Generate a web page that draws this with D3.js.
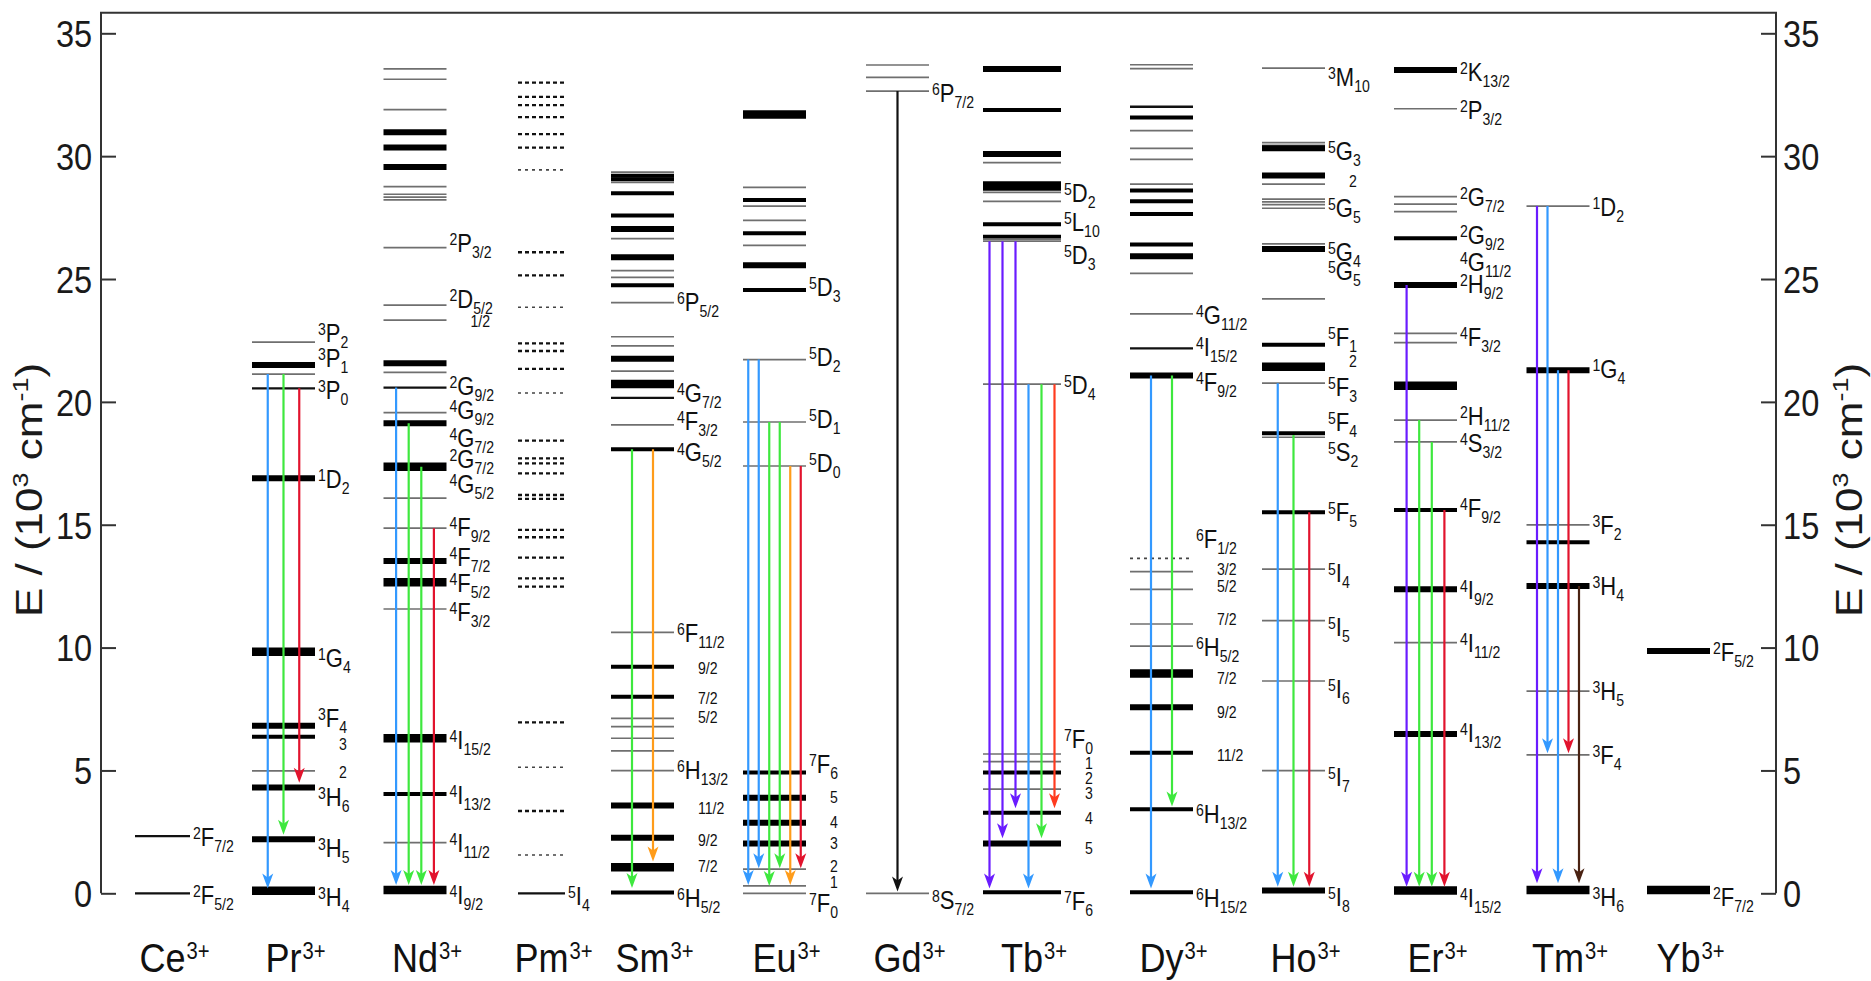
<!DOCTYPE html>
<html><head><meta charset="utf-8">
<script src="https://cdn.jsdelivr.net/npm/d3@7"></script>
<style>
html,body{margin:0;padding:0;background:#fff;}
svg{display:block;font-family:"Liberation Sans",Arial,sans-serif;}
</style></head><body>
<svg id="chart" width="1871" height="981"></svg>
<script>
// ---------------- DATA (energies in 10^3 cm^-1) ----------------
const ions = ["Ce","Pr","Nd","Pm","Sm","Eu","Gd","Tb","Dy","Ho","Er","Tm","Yb"];
const yTicks = [0,5,10,15,20,25,30,35];
const yTitle = ["E / (10","3"," cm","-1",")"];

// levels: [energy, weight class]  (1 thin grey ... 5 very thick, d/e dotted)
const levelsCe = [[2.33,2],[0,2]];
const levelsPr = [[22.43,1],[21.5,4],[21.13,1],[20.55,2],[16.89,4],[9.83,5],[6.82,4],[6.37,3],[4.98,1],[4.31,4],[2.2,4],[0.1,5]];
const levelsNd = [[33.55,1],[33.13,1],[31.89,1],[30.97,4],[30.35,4],[29.56,4],[28.76,1],[28.45,1],[28.33,1],[28.22,1],[26.28,1],[23.94,1],[23.33,1],[21.57,4],[21.2,1],[20.58,2],[19.56,1],[19.13,4],[17.36,5],[16.08,1],[14.86,1],[13.52,4],[12.66,5],[11.57,1],[6.31,5],[4.04,3],[2.06,1],[0.13,5]];
const levelsPm = [[32.99,"d"],[32.41,"d"],[32.08,"d"],[31.59,"d"],[30.9,"d"],[30.35,"d"],[29.44,"e"],[26.09,"d"],[25.15,"d"],[23.85,"e"],[22.38,"d"],[22.07,"d"],[21.34,"d"],[20.36,"e"],[18.42,"d"],[17.7,"d"],[17.5,"d"],[17.09,"d"],[16.21,"d"],[16.05,"d"],[14.79,"d"],[14.49,"d"],[13.66,"d"],[12.82,"d"],[12.48,"d"],[6.96,"d"],[5.13,"e"],[3.35,"d"],[1.56,"e"],[0,2]];
const levelsSm = [[29.35,1],[29.2,3],[29.06,3],[28.93,1],[28.49,3],[27.58,3],[27.04,4],[26.64,1],[25.89,4],[25.34,1],[25.07,1],[24.75,3],[24.04,1],[22.65,1],[22.28,1],[21.76,4],[21.25,1],[20.73,5],[20.16,2],[19.06,1],[18.07,3],[10.62,1],[9.22,3],[8.0,3],[7.12,1],[6.78,1],[6.31,1],[5.8,1],[4.99,1],[3.57,4],[2.26,4],[1.06,5],[0.03,3]];
const levelsEu = [[31.7,5],[28.73,1],[28.22,3],[27.97,1],[27.39,1],[26.86,3],[26.37,1],[25.56,4],[24.55,3],[21.72,1],[19.18,1],[17.39,1],[4.92,3],[3.89,4],[2.87,4],[2.03,4],[0.98,1],[0.3,1],[0,1]];
const levelsGd = [[33.71,1],[33.21,1],[32.65,1],[0,1]];
const levelsTb = [[33.55,4],[31.88,3],[30.09,4],[29.74,1],[28.86,4],[28.67,3],[28.53,1],[28.16,1],[27.23,3],[26.72,3],[26.62,1],[26.54,1],[20.72,1],[5.67,1],[5.36,1],[4.92,3],[4.24,1],[3.28,3],[2.03,4],[0.04,3]];
const levelsDy = [[33.72,1],[33.56,1],[32.01,2],[31.57,3],[31.04,1],[30.32,1],[29.87,1],[28.86,1],[28.6,3],[28.16,3],[27.65,3],[26.4,3],[25.93,4],[25.23,1],[23.58,1],[22.18,2],[21.07,4],[13.63,"e"],[13.09,1],[12.37,1],[10.96,1],[10.06,1],[8.95,5],[7.57,4],[5.72,3],[3.42,3],[0.04,3]];
const levelsHo = [[33.58,1],[30.55,1],[30.44,1],[30.32,4],[29.21,4],[28.86,1],[28.25,1],[28.14,1],[28.03,1],[27.88,1],[26.43,1],[26.22,4],[24.19,1],[22.32,3],[21.43,5],[20.76,1],[18.72,3],[18.56,1],[15.51,3],[13.19,1],[11.1,1],[8.64,1],[4.99,1],[0.11,4]];
const levelsEr = [[33.51,4],[31.93,1],[28.35,1],[28.05,1],[27.74,1],[26.66,3],[24.76,4],[22.79,1],[22.41,1],[20.66,5],[19.26,1],[18.37,1],[15.6,3],[12.37,4],[10.2,1],[6.48,4],[0.11,5]];
const levelsTm = [[27.97,1],[21.29,4],[14.99,1],[14.29,3],[12.51,4],[8.23,1],[5.63,1],[0.13,5]];
const levelsYb = [[9.86,4],[0.13,5]];

// labels: [multiplicity, letter, J, energy at which the label is centred]
const labelsCe = [["2","F","7/2",2.3],["2","F","5/2",-0.07]];
const labelsPr = [["3","P","2",22.8],["3","P","1",21.8],["3","P","0",20.5],["1","D","2",16.85],["1","G","4",9.57],["3","F","4",7.14],["","","3",6.05],["","","2",4.9],["3","H","6",3.92],["3","H","5",1.84],["3","H","4",-0.15]];
const labelsNd = [["2","P","3/2",26.45],["2","D","5/2",24.19],["","","1/2",23.27],["2","G","9/2",20.65],["4","G","9/2",19.67],["4","G","7/2",18.55],["2","G","7/2",17.68],["4","G","5/2",16.66],["4","F","9/2",14.89],["4","F","7/2",13.7],["4","F","5/2",12.63],["4","F","3/2",11.46],["4","I","15/2",6.24],["4","I","13/2",4.01],["4","I","11/2",2.06],["4","I","9/2",-0.06]];
const labelsPm = [["5","I","4",-0.1]];
const labelsSm = [["6","P","5/2",24.05],["4","G","7/2",20.38],["4","F","3/2",19.23],["4","G","5/2",17.94],["6","F","11/2",10.61],["","","9/2",9.16],["","","7/2",7.94],["","","5/2",7.16],["6","H","13/2",5.02],["","","11/2",3.46],["","","9/2",2.14],["","","7/2",1.08],["6","H","5/2",-0.2]];
const labelsEu = [["5","D","3",24.66],["5","D","2",21.84],["5","D","1",19.3],["5","D","0",17.5],["7","F","6",5.25],["","","5",3.89],["","","4",2.87],["","","3",2.03],["","","2",1.08],["","","1",0.42],["7","F","0",-0.4]];
const labelsGd = [["6","P","7/2",32.56],["8","S","7/2",-0.27]];
const labelsTb = [["5","D","2",28.52],["5","L","10",27.33],["5","D","3",25.98],["5","D","4",20.69],["7","F","0",6.28],["","","1",5.29],["","","2",4.68],["","","3",4.07],["","","4",3.05],["","","5",1.83],["7","F","6",-0.3]];
const labelsDy = [["4","G","11/2",23.54],["4","I","15/2",22.25],["4","F","9/2",20.82],["6","F","1/2",14.42],["","","3/2",13.19],["","","5/2",12.48],["","","7/2",11.15],["6","H","5/2",10.04],["","","7/2",8.75],["","","9/2",7.35],["","","11/2",5.59],["6","H","13/2",3.23],["6","H","15/2",-0.2]];
const labelsHo = [["3","M","10",33.24],["5","G","3",30.22],["","","2",28.96],["5","G","5",27.91],["5","G","4",26.11],["5","G","5",25.34],["5","F","1",22.65],["","","2",21.64],["5","F","3",20.62],["5","F","4",19.19],["5","S","2",17.97],["5","F","5",15.5],["5","I","4",13.02],["5","I","5",10.82],["5","I","6",8.31],["5","I","7",4.75],["5","I","8",-0.17]];
const labelsEr = [["2","K","13/2",33.44],["2","P","3/2",31.88],["2","G","7/2",28.35],["2","G","9/2",26.79],["4","G","11/2",25.71],["2","H","9/2",24.8],["4","F","3/2",22.65],["2","H","11/2",19.43],["4","S","3/2",18.31],["4","F","9/2",15.7],["4","I","9/2",12.34],["4","I","11/2",10.17],["4","I","13/2",6.51],["4","I","15/2",-0.2]];
const labelsTm = [["1","D","2",27.95],["1","G","4",21.34],["3","F","2",14.99],["3","H","4",12.51],["3","H","5",8.23],["3","F","4",5.63],["3","H","6",-0.14]];
const labelsYb = [["2","F","5/2",9.82],["2","F","7/2",-0.14]];

// transitions: [from energy, to energy, emission colour]
const arrowsCe = [];
const arrowsPr = [[21.13,0.2,"blue"],[21.13,2.38,"green"],[20.55,4.5,"red"]];
const arrowsNd = [[20.58,0.34,"blue"],[19.13,0.34,"green"],[17.36,0.34,"green"],[14.86,0.34,"red"]];
const arrowsPm = [];
const arrowsSm = [[18.07,0.22,"green"],[18.07,1.29,"orange"]];
const arrowsEu = [[21.72,0.34,"blue"],[21.72,1.02,"blue"],[19.18,0.3,"green"],[19.18,1.02,"green"],[17.39,0.34,"orange"],[17.39,1.02,"red"]];
const arrowsGd = [[32.65,0.07,"black"]];
const arrowsTb = [[26.54,0.2,"violet"],[26.54,2.24,"violet"],[26.54,3.46,"violet"],[20.72,0.2,"blue"],[20.72,2.24,"green"],[20.72,3.46,"orangered"]];
const arrowsDy = [[21.07,0.2,"blue"],[21.07,3.53,"green"]];
const arrowsHo = [[20.76,0.27,"blue"],[18.65,0.27,"green"],[15.51,0.27,"red"]];
const arrowsEr = [[24.76,0.27,"violet"],[19.26,0.27,"green"],[18.37,0.27,"green"],[15.6,0.27,"red"]];
const arrowsTm = [[27.97,0.41,"violet"],[27.97,5.7,"blue"],[21.29,0.41,"blue"],[21.29,5.7,"red"],[12.51,0.41,"brown"]];
const arrowsYb = [];

// ---------------- LAYOUT / STYLE ----------------
const levels = {Ce:levelsCe,Pr:levelsPr,Nd:levelsNd,Pm:levelsPm,Sm:levelsSm,Eu:levelsEu,Gd:levelsGd,Tb:levelsTb,Dy:levelsDy,Ho:levelsHo,Er:levelsEr,Tm:levelsTm,Yb:levelsYb};
const labels = {Ce:labelsCe,Pr:labelsPr,Nd:labelsNd,Pm:labelsPm,Sm:labelsSm,Eu:labelsEu,Gd:labelsGd,Tb:labelsTb,Dy:labelsDy,Ho:labelsHo,Er:labelsEr,Tm:labelsTm,Yb:labelsYb};
const arrows = {Ce:arrowsCe,Pr:arrowsPr,Nd:arrowsNd,Pm:arrowsPm,Sm:arrowsSm,Eu:arrowsEu,Gd:arrowsGd,Tb:arrowsTb,Dy:arrowsDy,Ho:arrowsHo,Er:arrowsEr,Tm:arrowsTm,Yb:arrowsYb};

const SX = 0.88;               // horizontal squeeze of the original lettering
const axL = 101, axR = 1776;
const svg = d3.select("#chart");
const y = d3.scaleLinear().domain([0,35]).range([893.3,33.3]);
const x = d3.scaleOrdinal().domain(ions)
  .range([162.5,283.5,415,541.5,642.5,774.5,897.5,1022,1161.5,1293.5,1425.5,1558,1678.5]);
const lineWidth = ion => ({Ce:55, Pm:47, Tb:78}[ion] || 63);
const levelStyle = {
  1:{w:1.7,c:"#6f6f6f"}, 2:{w:2.3,c:"#111"}, 3:{w:4,c:"#000"}, 4:{w:6,c:"#000"}, 5:{w:8.5,c:"#000"},
  d:{w:2.3,c:"#111",dash:"4 3"}, e:{w:1.6,c:"#444",dash:"3 4"}
};
const arrowColor = {blue:"#3399ff",green:"#3ee83e",red:"#e2132d",orange:"#ff9c1a",violet:"#6a1cff",
  orangered:"#ff3b1f",brown:"#4a2212",black:"#111"};

// frame
svg.append("path")
  .attr("d",`M${axL},${y(0)}V${y(35.84)}H${axR}V${y(0)}`)
  .attr("fill","none").attr("stroke","#333").attr("stroke-width",2);

// axes
const leftAxis = svg.append("g").attr("transform",`translate(${axL},0)`)
  .call(d3.axisLeft(y).tickValues(yTicks).tickSize(-15).tickPadding(10).tickSizeOuter(0));
const rightAxis = svg.append("g").attr("transform",`translate(${axR},0)`)
  .call(d3.axisRight(y).tickValues(yTicks).tickSize(-15).tickPadding(8).tickSizeOuter(0));
[leftAxis,rightAxis].forEach(a=>{
  a.select(".domain").remove();
  a.selectAll(".tick line").attr("stroke","#333").attr("stroke-width",2);
  a.selectAll(".tick text").attr("font-size",37).attr("fill","#1a1a1a")
    .attr("font-family","Liberation Sans, Arial, sans-serif")
    .attr("transform",`scale(${SX},1)`).attr("dy","0.36em");
});

// axis titles
function axisTitle(tx){
  const t = svg.append("text")
    .attr("transform",`translate(${tx},490) scale(0.84,1) rotate(-90)`)
    .attr("text-anchor","middle").attr("font-size",44).attr("fill","#1a1a1a");
  t.append("tspan").text(yTitle[0]);
  t.append("tspan").attr("font-size",27).attr("dy",-17).text(yTitle[1]);
  t.append("tspan").attr("dy",17).text(yTitle[2]);
  t.append("tspan").attr("font-size",27).attr("dy",-17).text(yTitle[3]);
  t.append("tspan").attr("dy",17).text(yTitle[4]);
}
axisTitle(42);
axisTitle(1862);

// columns
const g = svg.append("g");
ions.forEach(ion=>{
  const cx = x(ion), w = lineWidth(ion), x0 = cx - w/2, x1 = cx + w/2;
  const col = g.append("g").attr("class","ion-"+ion);

  col.selectAll("line.level").data(levels[ion]).join("line")
    .attr("class","level")
    .attr("x1",x0).attr("x2",x1)
    .attr("y1",d=>y(d[0])).attr("y2",d=>y(d[0]))
    .attr("stroke",d=>levelStyle[d[1]].c)
    .attr("stroke-width",d=>levelStyle[d[1]].w)
    .attr("stroke-dasharray",d=>levelStyle[d[1]].dash||null);

  // arrows
  const A = arrows[ion];
  if (A.length){
    const ax = d3.scalePoint().domain(d3.range(A.length)).range([x0,x1])
      .padding(A.length>=6 ? 0.5 : 1);
    const ag = col.selectAll("g.arrow").data(A).join("g").attr("class","arrow");
    ag.append("line")
      .attr("x1",(d,i)=>ax(i)).attr("x2",(d,i)=>ax(i))
      .attr("y1",d=>y(d[0])).attr("y2",d=>y(d[1])-10)
      .attr("stroke",d=>arrowColor[d[2]]).attr("stroke-width",2.2);
    ag.append("path")
      .attr("d",(d,i)=>{const px=ax(i), py=y(d[1]);
        return `M${px},${py}L${px-5.5},${py-15}L${px},${py-11}L${px+5.5},${py-15}Z`;})
      .attr("fill",d=>arrowColor[d[2]]);
  }

  // term labels
  labels[ion].forEach(L=>{
    const [sup,main,sub,e] = L;
    const yc = y(e);
    if (main){
      const t = col.append("text")
        .attr("transform",`translate(${x1+3},${yc+9}) scale(${SX},1)`)
        .attr("fill","#111");
      t.append("tspan").attr("font-size",16).attr("dy",-7).text(sup);
      t.append("tspan").attr("font-size",25).attr("dy",7).text(main);
      t.append("tspan").attr("font-size",16).attr("dy",6).text(sub);
    } else {
      col.append("text")
        .attr("transform",`translate(${x1+24},${yc+5.5}) scale(${SX},1)`)
        .attr("font-size",16).attr("fill","#111").text(sub);
    }
  });

  // ion name
  const nt = col.append("g").attr("transform",`translate(${cx},971.7) scale(${SX},1)`);
  const main = nt.append("text").attr("text-anchor","middle").attr("font-size",41)
    .attr("fill","#111").text(ion);
  const mw = main.node().getComputedTextLength();
  nt.append("text").attr("x",mw/2+1).attr("y",-13).attr("font-size",23)
    .attr("fill","#111").text("3+");
});
</script>
</body></html>
